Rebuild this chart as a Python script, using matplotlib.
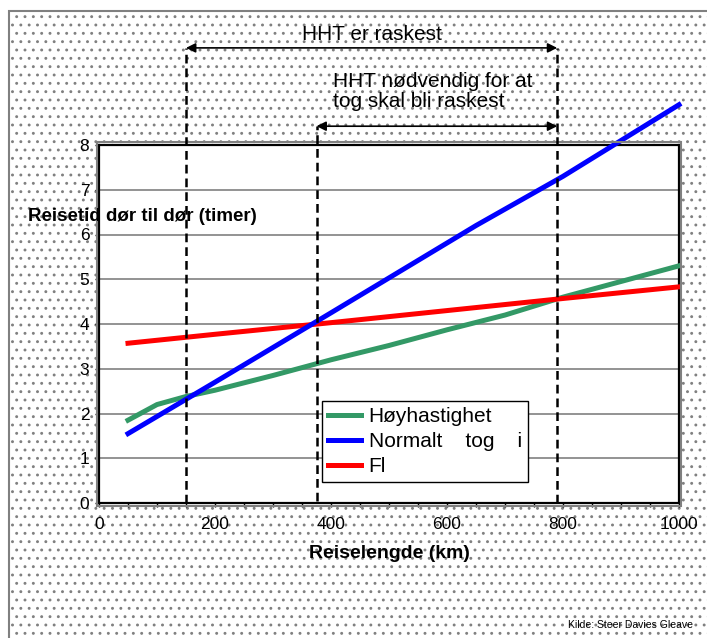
import numpy as np
import matplotlib
matplotlib.use("Agg")
import matplotlib.pyplot as plt
from matplotlib.patches import Rectangle

plt.rcParams['font.family'] = ['Liberation Sans', 'DejaVu Sans']
plt.rcParams['hatch.color'] = '#888888'
plt.rcParams['hatch.linewidth'] = 0.9

# Travel time door to door (hours) vs distance (km)
dist_hht = [50, 100, 150, 200, 300, 400, 500, 600, 700, 800, 900, 1000]
time_hht = [1.85, 2.2, 2.38, 2.52, 2.85, 3.2, 3.52, 3.87, 4.2, 4.6, 4.95, 5.3]

dist_train = [50, 200, 400, 650, 800, 1000]
time_train = [1.55, 2.7, 4.25, 6.2, 7.3, 8.9]

dist_fly = [50, 200, 400, 600, 800, 1000]
time_fly = [3.57, 3.77, 4.03, 4.3, 4.57, 4.83]

labels = ["Høyhastighet", "Normalt    tog    i", "Fl"]
colors = ["#339966", "#0000ff", "#ff0000"]

# crossing points (km) marked with dashed lines
x_hht_fast_start = 150
x_train_cross = 375
x_hht_fast_end = 790

fig = plt.figure(figsize=(7.07, 6.38), dpi=100)

# dotted background with gray border
bg = Rectangle((9 / 707, -0.1), 1.1, 1 - 11 / 638 + 0.1, transform=fig.transFigure,
               facecolor='white', edgecolor='#808080', hatch='..', linewidth=1.5, zorder=-10)
fig.add_artist(bg)

ax = fig.add_axes([99 / 707, 135 / 638, 580 / 707, 358 / 638])
ax.set_facecolor('white')

ax.plot(dist_hht, time_hht, color=colors[0], lw=3.6, label=labels[0], clip_on=False, zorder=4)
ax.plot(dist_train, time_train, color=colors[1], lw=3.6, label=labels[1], clip_on=False, zorder=5)
ax.plot(dist_fly, time_fly, color=colors[2], lw=3.6, label=labels[2], clip_on=False, zorder=4)

ax.set_xlim(0, 1000)
ax.set_ylim(0, 8)
ax.set_xticks(range(0, 1001, 200))
ax.set_xticks(range(0, 1001, 50), minor=True)
ax.set_yticks(range(0, 9))
ax.tick_params(which='both', direction='out', length=3, width=1, labelsize=12.5)
ax.tick_params(axis='x', pad=7)
ax.tick_params(axis='y', pad=4)
ax.grid(axis='y', color='#808080', lw=1.2, zorder=1)
ax.set_axisbelow(True)
for s in ax.spines.values():
    s.set_linewidth(1.6)
    s.set_color('black')

# gray outer frame just outside the black one
frame = Rectangle((-0.004, -0.007), 1.008, 1.014, transform=ax.transAxes, fill=False,
                  edgecolor='#808080', lw=1.5, clip_on=False, zorder=6)
ax.add_patch(frame)

# dashed vertical lines and arrows
y_top_arrow = 10.17
y_low_arrow = 8.42
dash = (0, (3.5, 2))
ax.plot([x_hht_fast_start] * 2, [0, y_top_arrow], ls=dash, color='black', lw=1.8, clip_on=False, zorder=7)
ax.plot([x_train_cross] * 2, [0.05, y_low_arrow], ls=dash, color='black', lw=1.8, clip_on=False, zorder=7)
ax.plot([x_hht_fast_end] * 2, [0, y_top_arrow], ls=dash, color='black', lw=1.8, clip_on=False, zorder=7)

arrow_style = dict(arrowstyle='<|-|>', color='black', lw=1.2, mutation_scale=14, shrinkA=0, shrinkB=0)
ax.annotate('', xy=(x_hht_fast_start, y_top_arrow), xytext=(x_hht_fast_end, y_top_arrow),
            arrowprops=arrow_style, annotation_clip=False)
ax.annotate('', xy=(x_train_cross, y_low_arrow), xytext=(x_hht_fast_end, y_low_arrow),
            arrowprops=arrow_style, annotation_clip=False)

ax.text(470, 10.46, "HHT er raskest", ha='center', va='center', fontsize=15, clip_on=False)
ax.text(403, 9.2, "HHT nødvendig for at\ntog skal bli raskest", ha='left', va='center',
        fontsize=15, linespacing=1.1, clip_on=False)

leg = ax.legend(loc='upper left', bbox_to_anchor=(0.384, 0.285), fontsize=15, frameon=True,
                fancybox=False, framealpha=1, edgecolor='black', handlelength=1.6,
                handletextpad=0.35, labelspacing=0.28, borderpad=0.3, borderaxespad=0)
leg.get_frame().set_linewidth(1.0)
leg.set_zorder(8)

fig.text(28 / 707, 1 - 217 / 638, "Reisetid dør til dør (timer)", ha='left', va='center',
         fontsize=13.5, fontweight='bold')
fig.text(389 / 707, 1 - 553 / 638, "Reiselengde (km)", ha='center', va='center',
         fontsize=14, fontweight='bold')
fig.text(568 / 707, 1 - 625 / 638, "Kilde: Steer Davies Gleave", ha='left', va='center', fontsize=7.5)

fig.savefig("out.png", dpi=100)
